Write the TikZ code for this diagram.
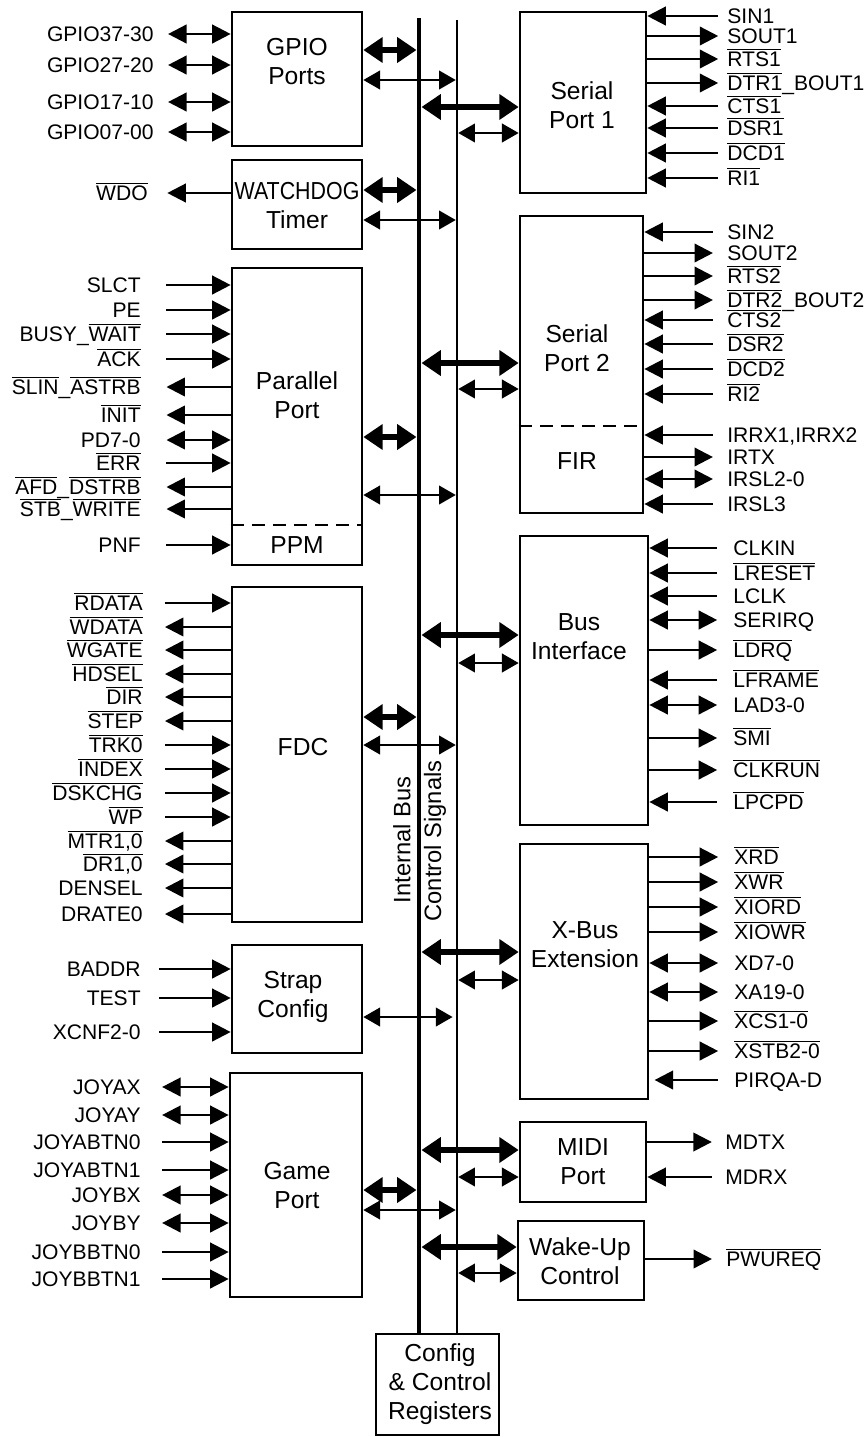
\documentclass[tikz,border=0pt]{standalone}
\usepackage{fontspec}
\setmainfont{Liberation Sans}
\usetikzlibrary{arrows.meta,fit}
\newcommand{\ovl}[1]{$\overline{\mbox{#1}}$}
% signal on the left: name, y, block, direction, text
\newcommand{\lsig}[5]{\node[lbl,anchor=east] (#1) at (\lx,#2) {#5};
  \draw[sig,#4] ([xshift=\lgap]#1.east) -- (#1 -| #3.west);}
% signal on the right: name, y, block, direction, text
\newcommand{\rsig}[5]{\node[lbl,anchor=west] (#1) at (\rx,#2) {#5};
  \draw[sig,#4] ([xshift=-\rgap]#1.west) -- (#1 -| #3.east);}
\newcommand{\blk}[5]{\node[box,fit={(#2,#3) (#4,#5)}] (#1) {};}
\newcommand{\lbus}[3]{\draw[tbus] (#1.east |- 0,#2) -- (ib |- 0,#2);
  \draw[nbus] (#1.east |- 0,#3) -- (cs |- 0,#3);}
\newcommand{\rbus}[3]{\draw[tbus] (#1.west |- 0,#2) -- (ib |- 0,#2);
  \draw[nbus] (#1.west |- 0,#3) -- (cs |- 0,#3);}

\begin{document}
\begin{tikzpicture}[x=0.02cm,y=-0.02cm,
  box/.style={draw,line width=1.5pt,inner sep=0pt},
  btxt/.style={align=center,font=\fontsize{14}{16.5}\selectfont,inner sep=0pt},
  lbl/.style={font=\fontsize{12}{14}\selectfont,inner sep=0pt,text height=8.6pt,text depth=0pt},
  vlbl/.style={rotate=90,font=\fontsize{13.5}{16}\selectfont,inner sep=0pt},
  sig/.style={line width=1.4pt,>={Triangle[length=10.5pt,width=10.5pt]}},
  inp/.style={->}, outp/.style={<-}, bid/.style={<->},
  tbus/.style={<->,line width=3.6pt,>={Triangle[length=11pt,width=14pt]},shorten >=1.4pt},
  nbus/.style={<->,line width=1.4pt,>={Triangle[length=9.5pt,width=10.5pt]},shorten >=0.7pt},
  dsh/.style={line width=1.5pt,dash pattern=on 7.5pt off 4.5pt}]
\useasboundingbox (0,0) rectangle (863,1437);

% blocks
\blk{gp}{232}{12}{362}{146}
\blk{wd}{232}{160}{362}{249}
\blk{pp}{232}{268}{362}{565}
\blk{fdc}{232}{587}{362}{922}
\blk{sc}{232}{945}{362}{1053}
\blk{gm}{230}{1073}{362}{1297}
\blk{sp1}{520}{12}{646}{193}
\blk{sp2}{520}{216}{643}{513}
\blk{bi}{520}{536}{648}{825}
\blk{xb}{520}{844}{648}{1099}
\blk{mp}{520}{1122}{646}{1202}
\blk{wu}{518}{1221}{644}{1300}
\blk{ccr}{376}{1334}{499}{1435}
\draw[dsh] (pp.west |- 0,525) -- (pp.east |- 0,525);
\draw[dsh] (sp2.west |- 0,426) -- (sp2.east |- 0,426);

\node[btxt] (gp-t) at (297,62) {GPIO\\Ports};
\node[btxt] (wd-t) at (297,206) {\scalebox{0.87}[1]{WATCHDOG}\\Timer};
\node[btxt] (pp-t) at (297,395) {Parallel\\Port};
\node[btxt] (ppm-t) at (297,545) {PPM};
\node[btxt] (fdc-t) at (303,747) {FDC};
\node[btxt] (sc-t) at (293,997) {Strap\\Config};
\node[btxt] (gm-t) at (297,1186) {Game\\Port};
\node[btxt] (sp1-t) at (582,105) {Serial\\Port 1};
\node[btxt] (sp2-t) at (577,348) {Serial\\Port 2};
\node[btxt] (fir-t) at (577,461) {FIR};
\node[btxt] (bi-t) at (579,637) {Bus\\Interface};
\node[btxt] (xb-t) at (585,945) {X-Bus\\Extension};
\node[btxt] (mp-t) at (583,1162) {MIDI\\Port};
\node[btxt] (wu-t) at (580,1261) {Wake-Up\\Control};
\node[btxt] (ccr-t) at (440,1384) {Config\\\& Control\\Registers};

% buses
\coordinate (ib) at (419,18);
\coordinate (cs) at (457,20);
\draw[line width=2.8pt] (ib) -- (ib |- ccr.north);
\draw[line width=1.3pt] (cs) -- (cs |- ccr.north);
\node[vlbl] (ib-t) at (402,840) {Internal Bus};
\node[vlbl] (cs-t) at (435,841) {Control Signals};

\lbus{gp}{50}{80}
\lbus{wd}{190}{220}
\lbus{pp}{437}{495}
\lbus{fdc}{717}{745}
\draw[nbus,shorten >=2.5pt] (sc.east |- 0,1017) -- (cs |- 0,1017);
\lbus{gm}{1190}{1210}
\rbus{sp1}{107}{133}
\rbus{sp2}{363}{389}
\rbus{bi}{635}{663}
\rbus{xb}{952}{980}
\rbus{mp}{1150}{1177}
\rbus{wu}{1247}{1273}

% GPIO and watchdog
\def\lx{154}\def\lgap{8pt}
\lsig{gpa}{34}{gp}{bid}{GPIO37-30}
\lsig{gpb}{65}{gp}{bid}{GPIO27-20}
\lsig{gpc}{102}{gp}{bid}{GPIO17-10}
\lsig{gpd}{132}{gp}{bid}{GPIO07-00}
\def\lx{148}\def\lgap{11pt}
\lsig{wdo}{193}{wd}{outp}{\ovl{WDO}}

% parallel port
\def\lx{141}\def\lgap{14.5pt}
\lsig{slct}{285}{pp}{inp}{SLCT}
\lsig{pe}{310}{pp}{inp}{PE}
\lsig{busy}{334}{pp}{inp}{BUSY\_\ovl{WAIT}}
\lsig{ack}{359}{pp}{inp}{\ovl{ACK}}
\lsig{slin}{387}{pp}{outp}{\ovl{SLIN}\_\ovl{ASTRB}}
\lsig{init}{415}{pp}{outp}{\ovl{INIT}}
\lsig{pd}{440}{pp}{bid}{PD7-0}
\lsig{err}{463}{pp}{inp}{\ovl{ERR}}
\lsig{afd}{487}{pp}{outp}{\ovl{AFD}\_\ovl{DSTRB}}
\lsig{stb}{509}{pp}{outp}{\ovl{STB}\_\ovl{WRITE}}
\lsig{pnf}{545}{pp}{inp}{PNF}

% floppy
\def\lx{143}\def\lgap{12.5pt}
\lsig{rdata}{603}{fdc}{inp}{\ovl{RDATA}}
\lsig{wdata}{627}{fdc}{outp}{\ovl{WDATA}}
\lsig{wgate}{650}{fdc}{outp}{\ovl{WGATE}}
\lsig{hdsel}{674}{fdc}{outp}{\ovl{HDSEL}}
\lsig{dir}{697}{fdc}{outp}{\ovl{DIR}}
\lsig{stp}{721}{fdc}{outp}{\ovl{STEP}}
\lsig{trk}{745}{fdc}{inp}{\ovl{TRK0}}
\lsig{index}{769}{fdc}{inp}{\ovl{INDEX}}
\lsig{dskchg}{793}{fdc}{inp}{\ovl{DSKCHG}}
\lsig{wp}{817}{fdc}{inp}{\ovl{WP}}
\lsig{mtr}{841}{fdc}{outp}{\ovl{MTR1,0}}
\lsig{dr}{864}{fdc}{outp}{\ovl{DR1,0}}
\lsig{densel}{888}{fdc}{outp}{DENSEL}
\lsig{drate}{914}{fdc}{outp}{DRATE0}

% straps
\def\lx{141}\def\lgap{10.5pt}
\lsig{baddr}{969}{sc}{inp}{BADDR}
\lsig{test}{998}{sc}{inp}{TEST}
\lsig{xcnf}{1032}{sc}{inp}{XCNF2-0}

% game port
\def\lx{141}\def\lgap{12pt}
\lsig{joyax}{1087}{gm}{bid}{JOYAX}
\lsig{joyay}{1115}{gm}{bid}{JOYAY}
\lsig{joyabz}{1142}{gm}{inp}{JOYABTN0}
\lsig{joyabo}{1170}{gm}{inp}{JOYABTN1}
\lsig{joybx}{1195}{gm}{bid}{JOYBX}
\lsig{joyby}{1223}{gm}{bid}{JOYBY}
\lsig{joybbz}{1252}{gm}{inp}{JOYBBTN0}
\lsig{joybbo}{1279}{gm}{inp}{JOYBBTN1}

% serial port 1
\def\rx{727}\def\rgap{5pt}
\rsig{sina}{16}{sp1}{inp}{SIN1}
\rsig{souta}{36}{sp1}{outp}{SOUT1}
\rsig{rtsa}{59}{sp1}{outp}{\ovl{RTS1}}
\rsig{dtra}{83}{sp1}{outp}{\ovl{DTR1}\_BOUT1}
\rsig{ctsa}{106}{sp1}{inp}{\ovl{CTS1}}
\rsig{dsra}{128}{sp1}{inp}{\ovl{DSR1}}
\rsig{dcda}{153}{sp1}{inp}{\ovl{DCD1}}
\rsig{ria}{178}{sp1}{inp}{\ovl{RI1}}

% serial port 2 and FIR
\def\rx{727}\def\rgap{8pt}
\rsig{sinb}{232}{sp2}{inp}{SIN2}
\rsig{soutb}{253}{sp2}{outp}{SOUT2}
\rsig{rtsb}{276}{sp2}{outp}{\ovl{RTS2}}
\rsig{dtrb}{300}{sp2}{outp}{\ovl{DTR2}\_BOUT2}
\rsig{ctsb}{320}{sp2}{inp}{\ovl{CTS2}}
\rsig{dsrb}{344}{sp2}{inp}{\ovl{DSR2}}
\rsig{dcdb}{369}{sp2}{inp}{\ovl{DCD2}}
\rsig{rib}{394}{sp2}{inp}{\ovl{RI2}}
\rsig{irrx}{435}{sp2}{inp}{IRRX1,IRRX2}
\rsig{irtx}{457}{sp2}{outp}{IRTX}
\rsig{irsl}{479}{sp2}{bid}{IRSL2-0}
\rsig{irslt}{504}{sp2}{inp}{IRSL3}

% bus interface
\def\rx{733}\def\rgap{9pt}
\rsig{clkin}{548}{bi}{inp}{CLKIN}
\rsig{lreset}{573}{bi}{inp}{\ovl{LRESET}}
\rsig{lclk}{596}{bi}{inp}{LCLK}
\rsig{serirq}{620}{bi}{bid}{SERIRQ}
\rsig{ldrq}{650}{bi}{outp}{\ovl{LDRQ}}
\rsig{lframe}{680}{bi}{inp}{\ovl{LFRAME}}
\rsig{lad}{705}{bi}{bid}{LAD3-0}
\rsig{smi}{738}{bi}{outp}{\ovl{SMI}}
\rsig{clkrun}{770}{bi}{outp}{\ovl{CLKRUN}}
\rsig{lpcpd}{802}{bi}{inp}{\ovl{LPCPD}}

% x-bus
\def\rx{734}\def\rgap{9pt}
\rsig{xrd}{857}{xb}{outp}{\ovl{XRD}}
\rsig{xwr}{882}{xb}{outp}{\ovl{XWR}}
\rsig{xiord}{907}{xb}{outp}{\ovl{XIORD}}
\rsig{xiowr}{932}{xb}{outp}{\ovl{XIOWR}}
\rsig{xd}{963}{xb}{bid}{XD7-0}
\rsig{xa}{992}{xb}{bid}{XA19-0}
\rsig{xcs}{1021}{xb}{outp}{\ovl{XCS1-0}}
\rsig{xstb}{1051}{xb}{outp}{\ovl{XSTB2-0}}
\rsig{pirq}{1080}{xb}{inp,shorten >=3pt}{PIRQA-D}

% midi, wake-up
\def\rx{725}\def\rgap{7.5pt}
\rsig{mdtx}{1142}{mp}{outp}{MDTX}
\rsig{mdrx}{1177}{mp}{inp}{MDRX}
\def\rx{726}\def\rgap{8pt}
\rsig{pwureq}{1259}{wu}{outp}{\ovl{PWUREQ}}
\end{tikzpicture}
\end{document}
